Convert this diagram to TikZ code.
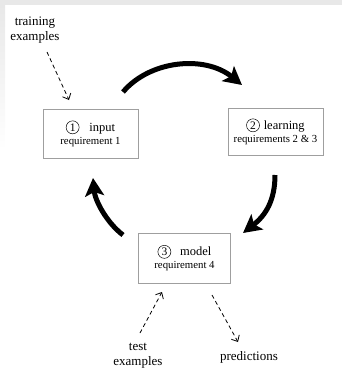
\documentclass[tikz,border=0pt]{standalone}
\usepackage{fontspec}
\setmainfont{Liberation Serif}
\usetikzlibrary{arrows.meta}
\newcommand{\circnum}[1]{\tikz[baseline=(cn.base)]\node[draw,circle,minimum size=13pt,inner sep=0pt,line width=0.5pt,font=\fontsize{11.5}{12}\selectfont](cn){#1};}
\tikzset{
  stagebox/.style={draw=gray!75, line width=0.8pt, minimum width=95pt, minimum height=49pt, align=center, inner sep=0pt, font=\fontsize{12.5}{14}\selectfont},
  lbl/.style={align=center, inner sep=0pt, font=\fontsize{13}{15}\selectfont},
  bigarrow/.style={line width=5pt, -{Stealth[length=18pt,width=19pt,inset=4pt]}},
  dasharrow/.style={dash pattern=on 4pt off 3pt, line width=0.8pt, -{Straight Barb[length=5pt,width=9pt]}},
  req/.style={font=\fontsize{10.8}{12}\selectfont}
}
\begin{document}
\begin{tikzpicture}[x=1pt,y=-1pt]
\useasboundingbox (0,0) rectangle (342,370);
\fill[gray!18] (0,0) rectangle (342,4.5);
\shade[top color=gray!18, bottom color=white] (0,4.5) rectangle (5,150);

\node[stagebox] (in) at (90.5,133.5) {\circnum{1}\hspace{10pt}input\\[-1pt]{\fontsize{10.8}{12}\selectfont requirement 1}};
\node[stagebox, minimum height=47pt] (learn) at (275.5,131.5) {\circnum{2}\hspace{4pt}learning\\[-1pt]{\fontsize{10.8}{12}\selectfont requirements 2 \& 3}};
\node[stagebox, minimum width=92pt, minimum height=50pt] (model) at (184.5,258) {\circnum{3}\hspace{9pt}model\\[-1pt]{\fontsize{10.8}{12}\selectfont requirement 4}};

\node[lbl] (train) at (35,30) {training\\examples};
\node[lbl] (test) at (138,356) {test\\examples};
\node[lbl] (pred) at (249,357) {predictions};

\coordinate (a1s) at (123,92);
\coordinate (a1e) at (242,85);
\coordinate (a2s) at (275,175);
\coordinate (a2e) at (243,233);
\coordinate (a3s) at (123,235);
\coordinate (a3e) at (93,178);
\draw[bigarrow] (a1s) .. controls (150,60) and (205,55) .. (a1e);
\draw[bigarrow] (a2s) .. controls (275,200) and (266,215) .. (a2e);
\draw[bigarrow] (a3s) .. controls (106,222) and (95,200) .. (a3e);

\coordinate (d1s) at (47,52);
\coordinate (d1e) at (69,100);
\coordinate (d2s) at (140,333);
\coordinate (d2e) at (162,292);
\coordinate (d3s) at (212,295);
\coordinate (d3e) at (238,342);
\draw[dasharrow] (d1s) -- (d1e);
\draw[dasharrow] (d2s) -- (d2e);
\draw[dasharrow] (d3s) -- (d3e);
\end{tikzpicture}
\end{document}
